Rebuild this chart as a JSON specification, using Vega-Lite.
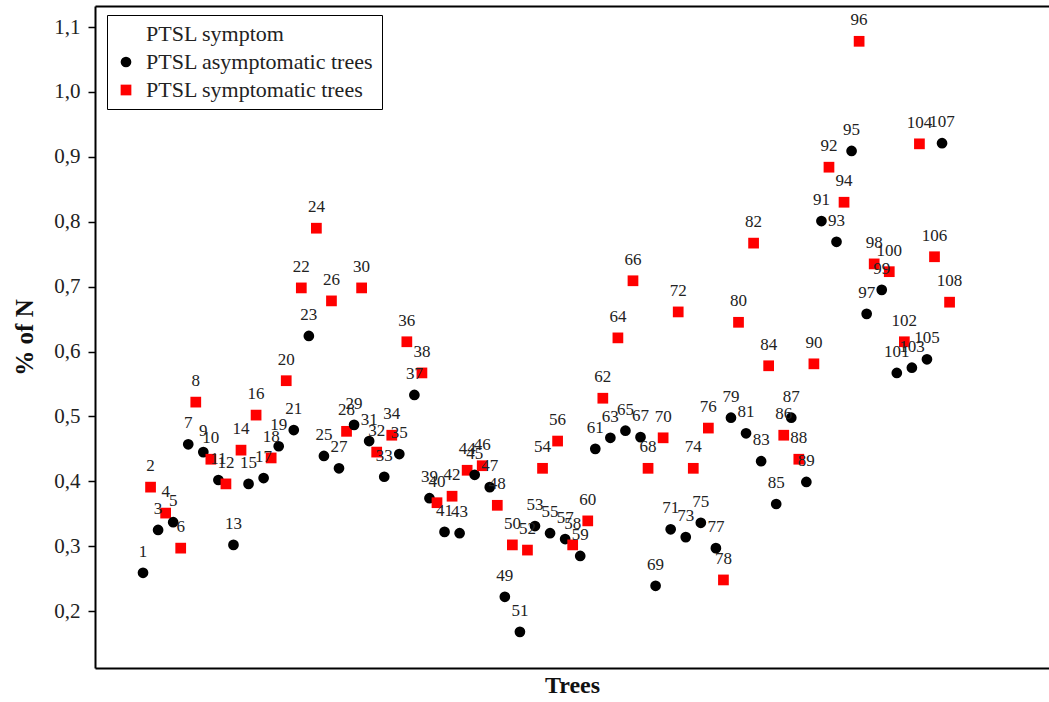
{
  "$schema": "https://vega.github.io/schema/vega-lite/v6.json",
  "autosize": "none",
  "padding": {"left": 95, "top": 6, "right": 0, "bottom": 34},
  "width": 954,
  "height": 662,
  "background": "white",
  "config": {
    "font": "Liberation Serif",
    "view": {"stroke": null}
  },
  "resolve": {"axis": {"x": "independent"}},
  "data": {"values": [
    {"tree":1,"value":0.259,"group":"PTSL asymptomatic trees"},
    {"tree":2,"value":0.391,"group":"PTSL symptomatic trees"},
    {"tree":3,"value":0.325,"group":"PTSL asymptomatic trees"},
    {"tree":4,"value":0.351,"group":"PTSL symptomatic trees"},
    {"tree":5,"value":0.337,"group":"PTSL asymptomatic trees"},
    {"tree":6,"value":0.297,"group":"PTSL symptomatic trees"},
    {"tree":7,"value":0.457,"group":"PTSL asymptomatic trees"},
    {"tree":8,"value":0.522,"group":"PTSL symptomatic trees"},
    {"tree":9,"value":0.445,"group":"PTSL asymptomatic trees"},
    {"tree":10,"value":0.434,"group":"PTSL symptomatic trees"},
    {"tree":11,"value":0.402,"group":"PTSL asymptomatic trees"},
    {"tree":12,"value":0.396,"group":"PTSL symptomatic trees"},
    {"tree":13,"value":0.302,"group":"PTSL asymptomatic trees"},
    {"tree":14,"value":0.448,"group":"PTSL symptomatic trees"},
    {"tree":15,"value":0.396,"group":"PTSL asymptomatic trees"},
    {"tree":16,"value":0.502,"group":"PTSL symptomatic trees"},
    {"tree":17,"value":0.405,"group":"PTSL asymptomatic trees"},
    {"tree":18,"value":0.436,"group":"PTSL symptomatic trees"},
    {"tree":19,"value":0.454,"group":"PTSL asymptomatic trees"},
    {"tree":20,"value":0.555,"group":"PTSL symptomatic trees"},
    {"tree":21,"value":0.479,"group":"PTSL asymptomatic trees"},
    {"tree":22,"value":0.698,"group":"PTSL symptomatic trees"},
    {"tree":23,"value":0.624,"group":"PTSL asymptomatic trees"},
    {"tree":24,"value":0.790,"group":"PTSL symptomatic trees"},
    {"tree":25,"value":0.439,"group":"PTSL asymptomatic trees"},
    {"tree":26,"value":0.678,"group":"PTSL symptomatic trees"},
    {"tree":27,"value":0.420,"group":"PTSL asymptomatic trees"},
    {"tree":28,"value":0.477,"group":"PTSL symptomatic trees"},
    {"tree":29,"value":0.487,"group":"PTSL asymptomatic trees"},
    {"tree":30,"value":0.698,"group":"PTSL symptomatic trees"},
    {"tree":31,"value":0.462,"group":"PTSL asymptomatic trees"},
    {"tree":32,"value":0.445,"group":"PTSL symptomatic trees"},
    {"tree":33,"value":0.407,"group":"PTSL asymptomatic trees"},
    {"tree":34,"value":0.471,"group":"PTSL symptomatic trees"},
    {"tree":35,"value":0.442,"group":"PTSL asymptomatic trees"},
    {"tree":36,"value":0.615,"group":"PTSL symptomatic trees"},
    {"tree":37,"value":0.533,"group":"PTSL asymptomatic trees"},
    {"tree":38,"value":0.567,"group":"PTSL symptomatic trees"},
    {"tree":39,"value":0.374,"group":"PTSL asymptomatic trees"},
    {"tree":40,"value":0.367,"group":"PTSL symptomatic trees"},
    {"tree":41,"value":0.322,"group":"PTSL asymptomatic trees"},
    {"tree":42,"value":0.377,"group":"PTSL symptomatic trees"},
    {"tree":43,"value":0.320,"group":"PTSL asymptomatic trees"},
    {"tree":44,"value":0.417,"group":"PTSL symptomatic trees"},
    {"tree":45,"value":0.410,"group":"PTSL asymptomatic trees"},
    {"tree":46,"value":0.424,"group":"PTSL symptomatic trees"},
    {"tree":47,"value":0.391,"group":"PTSL asymptomatic trees"},
    {"tree":48,"value":0.363,"group":"PTSL symptomatic trees"},
    {"tree":49,"value":0.222,"group":"PTSL asymptomatic trees"},
    {"tree":50,"value":0.302,"group":"PTSL symptomatic trees"},
    {"tree":51,"value":0.168,"group":"PTSL asymptomatic trees"},
    {"tree":52,"value":0.294,"group":"PTSL symptomatic trees"},
    {"tree":53,"value":0.331,"group":"PTSL asymptomatic trees"},
    {"tree":54,"value":0.420,"group":"PTSL symptomatic trees"},
    {"tree":55,"value":0.320,"group":"PTSL asymptomatic trees"},
    {"tree":56,"value":0.462,"group":"PTSL symptomatic trees"},
    {"tree":57,"value":0.311,"group":"PTSL asymptomatic trees"},
    {"tree":58,"value":0.302,"group":"PTSL symptomatic trees"},
    {"tree":59,"value":0.285,"group":"PTSL asymptomatic trees"},
    {"tree":60,"value":0.339,"group":"PTSL symptomatic trees"},
    {"tree":61,"value":0.450,"group":"PTSL asymptomatic trees"},
    {"tree":62,"value":0.528,"group":"PTSL symptomatic trees"},
    {"tree":63,"value":0.467,"group":"PTSL asymptomatic trees"},
    {"tree":64,"value":0.621,"group":"PTSL symptomatic trees"},
    {"tree":65,"value":0.478,"group":"PTSL asymptomatic trees"},
    {"tree":66,"value":0.709,"group":"PTSL symptomatic trees"},
    {"tree":67,"value":0.468,"group":"PTSL asymptomatic trees"},
    {"tree":68,"value":0.420,"group":"PTSL symptomatic trees"},
    {"tree":69,"value":0.239,"group":"PTSL asymptomatic trees"},
    {"tree":70,"value":0.467,"group":"PTSL symptomatic trees"},
    {"tree":71,"value":0.326,"group":"PTSL asymptomatic trees"},
    {"tree":72,"value":0.661,"group":"PTSL symptomatic trees"},
    {"tree":73,"value":0.314,"group":"PTSL asymptomatic trees"},
    {"tree":74,"value":0.420,"group":"PTSL symptomatic trees"},
    {"tree":75,"value":0.336,"group":"PTSL asymptomatic trees"},
    {"tree":76,"value":0.482,"group":"PTSL symptomatic trees"},
    {"tree":77,"value":0.297,"group":"PTSL asymptomatic trees"},
    {"tree":78,"value":0.248,"group":"PTSL symptomatic trees"},
    {"tree":79,"value":0.498,"group":"PTSL asymptomatic trees"},
    {"tree":80,"value":0.645,"group":"PTSL symptomatic trees"},
    {"tree":81,"value":0.474,"group":"PTSL asymptomatic trees"},
    {"tree":82,"value":0.767,"group":"PTSL symptomatic trees"},
    {"tree":83,"value":0.431,"group":"PTSL asymptomatic trees"},
    {"tree":84,"value":0.578,"group":"PTSL symptomatic trees"},
    {"tree":85,"value":0.365,"group":"PTSL asymptomatic trees"},
    {"tree":86,"value":0.471,"group":"PTSL symptomatic trees"},
    {"tree":87,"value":0.498,"group":"PTSL asymptomatic trees"},
    {"tree":88,"value":0.434,"group":"PTSL symptomatic trees"},
    {"tree":89,"value":0.399,"group":"PTSL asymptomatic trees"},
    {"tree":90,"value":0.581,"group":"PTSL symptomatic trees"},
    {"tree":91,"value":0.801,"group":"PTSL asymptomatic trees"},
    {"tree":92,"value":0.884,"group":"PTSL symptomatic trees"},
    {"tree":93,"value":0.769,"group":"PTSL asymptomatic trees"},
    {"tree":94,"value":0.830,"group":"PTSL symptomatic trees"},
    {"tree":95,"value":0.909,"group":"PTSL asymptomatic trees"},
    {"tree":96,"value":1.078,"group":"PTSL symptomatic trees"},
    {"tree":97,"value":0.658,"group":"PTSL asymptomatic trees"},
    {"tree":98,"value":0.735,"group":"PTSL symptomatic trees"},
    {"tree":99,"value":0.695,"group":"PTSL asymptomatic trees"},
    {"tree":100,"value":0.723,"group":"PTSL symptomatic trees"},
    {"tree":101,"value":0.567,"group":"PTSL asymptomatic trees"},
    {"tree":102,"value":0.615,"group":"PTSL symptomatic trees"},
    {"tree":103,"value":0.575,"group":"PTSL asymptomatic trees"},
    {"tree":104,"value":0.920,"group":"PTSL symptomatic trees"},
    {"tree":105,"value":0.588,"group":"PTSL asymptomatic trees"},
    {"tree":106,"value":0.746,"group":"PTSL symptomatic trees"},
    {"tree":107,"value":0.921,"group":"PTSL asymptomatic trees"},
    {"tree":108,"value":0.676,"group":"PTSL symptomatic trees"}
  ]},
  "encoding": {
    "y": {
      "field": "value", "type": "quantitative",
      "scale": {"domain": [0.1123, 1.1324], "nice": false, "zero": false},
      "axis": {"title": "% of N", "titleFont": "Liberation Serif", "titleFontSize": 25, "titleFontWeight": "bold", "titleColor": "#111", "titlePadding": 16, "values": [0.2,0.3,0.4,0.5,0.6,0.7,0.8,0.9,1.0,1.1], "labelExpr": "replace(format(datum.value, '.1f'), '.', ',')", "labelFont": "Liberation Serif", "labelFontSize": 21, "labelColor": "#222", "labelPadding": 8, "tickColor": "black", "tickSize": 7, "tickWidth": 1.5, "grid": false, "domainColor": "black", "domainWidth": 2}
    }
  },
  "layer": [
    {
      "mark": {"type": "point", "filled": true, "opacity": 1, "strokeWidth": 0},
      "encoding": {
        "x": {
          "field": "tree", "type": "quantitative",
          "scale": {"domain": [-5.37, 121.19], "nice": false, "zero": false},
          "axis": {"title": "Trees", "titleFont": "Liberation Serif", "titleFontSize": 24, "titleFontWeight": "bold", "titleColor": "#111", "titlePadding": 5, "labels": false, "ticks": false, "grid": false, "domainColor": "black", "domainWidth": 2}
        },
        "color": {
          "field": "group", "type": "nominal",
          "scale": {"domain": ["PTSL symptom", "PTSL asymptomatic trees", "PTSL symptomatic trees"], "range": ["rgba(0,0,0,0)", "black", "#ff0000"]},
          "legend": {
            "title": null, "orient": "none", "legendX": 12, "legendY": 9,
            "direction": "vertical",
            "strokeColor": "black", "fillColor": "white",
            "padding": 8, "rowPadding": 6,
            "labelFont": "Liberation Serif", "labelFontSize": 22, "labelColor": "#222", "labelLimit": 400,
            "labelOffset": 9, "symbolSize": 130, "symbolStrokeWidth": 0,
            "offset": 0
          }
        },
        "shape": {
          "field": "group", "type": "nominal",
          "scale": {"domain": ["PTSL symptom", "PTSL asymptomatic trees", "PTSL symptomatic trees"], "range": ["circle", "circle", "square"]},
          "legend": null
        },
        "size": {
          "field": "group", "type": "nominal",
          "scale": {"domain": ["PTSL symptom", "PTSL asymptomatic trees", "PTSL symptomatic trees"], "range": [115, 115, 150]},
          "legend": null
        }
      }
    },
    {
      "mark": {"type": "text", "dy": -21, "font": "Liberation Serif", "fontSize": 17, "color": "#222"},
      "encoding": {
        "x": {
          "field": "tree", "type": "quantitative",
          "scale": {"domain": [-5.37, 121.19], "nice": false, "zero": false},
          "axis": {"orient": "top", "title": null, "labels": false, "ticks": false, "grid": false, "domainColor": "black", "domainWidth": 2}
        },
        "text": {"field": "tree", "type": "quantitative"}
      }
    }
  ]
}
